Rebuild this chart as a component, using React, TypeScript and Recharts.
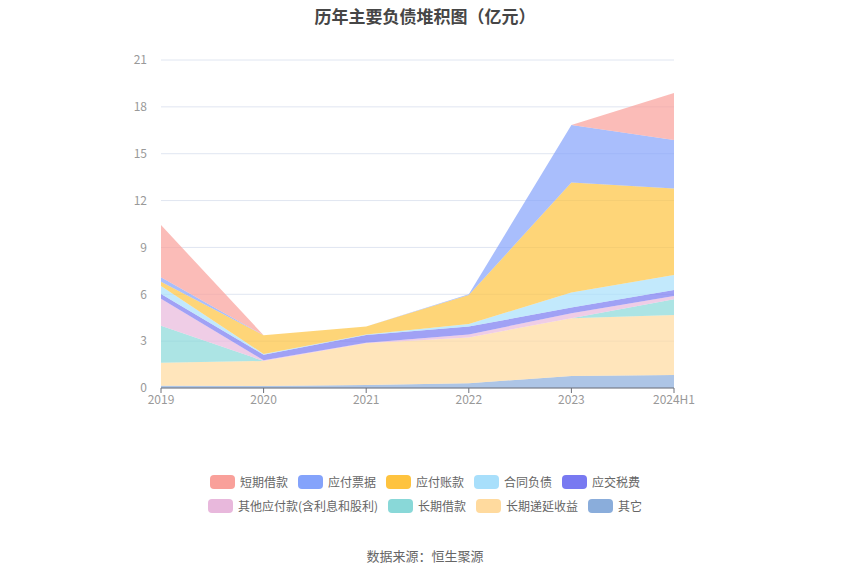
import React from "react";
import { AreaChart, Area, XAxis, YAxis, CartesianGrid } from "recharts";

const years = ["2019", "2020", "2021", "2022", "2023", "2024H1"];
const qita = [0.15, 0.13, 0.19, 0.3, 0.77, 0.83];
const changqiDiyan = [1.47, 1.6, 2.67, 2.94, 3.69, 3.84];
const changqiJiekuan = [2.37, 0, 0, 0, 0, 1.01];
const qitaYingfu = [1.73, 0.05, 0.04, 0.19, 0.32, 0.21];
const yingjiaoShuifei = [0.3, 0.35, 0.5, 0.5, 0.38, 0.38];
const hetongFuzhai = [0.51, 0.05, 0.03, 0.17, 0.96, 0.96];
const yingfuZhangkuan = [0.28, 1.2, 0.5, 1.85, 7.03, 5.55];
const yingfuPiaoju = [0.28, 0, 0, 0.05, 3.69, 3.1];
const duanqiJiekuan = [3.34, 0, 0, 0, 0, 3.0];
const yTicks = [0, 3, 6, 9, 12, 15, 18, 21];

const series = [
  { key: "其它", values: qita, color: "#8aaddb" },
  { key: "长期递延收益", values: changqiDiyan, color: "#ffda9e" },
  { key: "长期借款", values: changqiJiekuan, color: "#89d8d8" },
  { key: "其他应付款(含利息和股利)", values: qitaYingfu, color: "#e8b8dc" },
  { key: "应交税费", values: yingjiaoShuifei, color: "#7879f1" },
  { key: "合同负债", values: hetongFuzhai, color: "#a8dffb" },
  { key: "应付账款", values: yingfuZhangkuan, color: "#fec33f" },
  { key: "应付票据", values: yingfuPiaoju, color: "#84a3fb" },
  { key: "短期借款", values: duanqiJiekuan, color: "#f9a09a" },
];

const data = years.map((y, i) => {
  const row: Record<string, any> = { year: y };
  series.forEach((s) => (row[s.key] = s.values[i]));
  return row;
});

const legendRow1 = ["短期借款", "应付票据", "应付账款", "合同负债", "应交税费"];
const legendRow2 = ["其他应付款(含利息和股利)", "长期借款", "长期递延收益", "其它"];

const colorOf = (k: string) => series.find((s) => s.key === k)!.color;

const LegendRow = ({ items, top }: { items: string[]; top: number }) => (
  <div
    style={{
      position: "absolute",
      left: 0,
      width: 850,
      top,
      display: "flex",
      justifyContent: "center",
      gap: 10,
      fontSize: 12,
      color: "#666",
      lineHeight: "14px",
    }}
  >
    {items.map((k) => (
      <div key={k} style={{ display: "flex", alignItems: "center" }}>
        <div
          style={{
            width: 25,
            height: 14,
            borderRadius: 4,
            background: colorOf(k),
            marginRight: 5,
          }}
        />
        <span>{k}</span>
      </div>
    ))}
  </div>
);

export default function App() {
  const font = '"Noto Sans CJK SC", "Noto Sans", sans-serif';
  return (
    <div
      style={{
        position: "absolute",
        left: 0,
        top: 0,
        width: 850,
        height: 575,
        background: "#fff",
        fontFamily: font,
      }}
    >
      <div
        style={{
          position: "absolute",
          top: 3,
          left: 0,
          width: 850,
          textAlign: "center",
          fontSize: 17,
          fontWeight: "bold",
          color: "#464646",
        }}
      >
        历年主要负债堆积图（亿元）
      </div>
      <div style={{ position: "absolute", left: 0, top: 0 }}>
        <AreaChart
          width={850}
          height={575}
          data={data}
          margin={{ top: 60, right: 176, left: 121, bottom: 157 }}
        >
          <CartesianGrid vertical={false} stroke="#e0e6f1" />
          <XAxis
            dataKey="year"
            height={30}
            axisLine={{ stroke: "#6e7079" }}
            tickLine={{ stroke: "#6e7079" }}
            tickSize={5}
            tick={{ fill: "#999", fontSize: 12, fontFamily: font }}
            interval={0}
          />
          <YAxis
            width={40}
            domain={[0, 21]}
            ticks={yTicks}
            axisLine={false}
            tickLine={false}
            tickMargin={8}
            tick={{ fill: "#999", fontSize: 12, fontFamily: font }}
          />
          {series.map((s) => (
            <Area
              key={s.key}
              type="linear"
              dataKey={s.key}
              stackId="1"
              stroke="none"
              fill={s.color}
              fillOpacity={0.7}
              isAnimationActive={false}
              dot={false}
              activeDot={false}
            />
          ))}
        </AreaChart>
      </div>
      <LegendRow items={legendRow1} top={475} />
      <LegendRow items={legendRow2} top={499} />
      <div
        style={{
          position: "absolute",
          top: 546,
          left: 0,
          width: 850,
          textAlign: "center",
          fontSize: 13,
          color: "#666",
        }}
      >
        数据来源：恒生聚源
      </div>
    </div>
  );
}
